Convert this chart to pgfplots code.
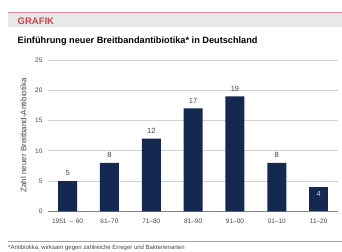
\documentclass[border=0pt]{standalone}
\usepackage{fontspec}
\setmainfont{Liberation Sans}
\usepackage{pgfplots}
\pgfplotsset{compat=1.18}
\definecolor{barblue}{RGB}{20,40,82}
\definecolor{hdrred}{RGB}{200,70,80}
\definecolor{hdrline}{RGB}{215,140,150}
\definecolor{hdrgrey}{RGB}{232,232,232}
\definecolor{gridgrey}{RGB}{210,210,210}
\definecolor{txtgrey}{RGB}{70,70,70}
\begin{document}
\begin{tikzpicture}
\fill[white] (0,0) rectangle (342pt,252pt);
\fill[hdrgrey] (8pt,225pt) rectangle (342pt,239.5pt);
\draw[hdrline, line width=1pt] (8pt,239.5pt) -- (342pt,239.5pt);
\node[anchor=west, inner sep=0pt, text=hdrred, font=\bfseries\fontsize{9.5}{10}\selectfont] at (17.5pt,230.5pt) {GRAFIK};
\node[anchor=west, inner sep=0pt, font=\bfseries\fontsize{9.2}{10}\selectfont] at (17.5pt,210.3pt) {Einführung neuer Breitbandantibiotika* in Deutschland};
\node[rotate=90, text=txtgrey, font=\fontsize{8}{9}\selectfont] at (23.5pt,116.5pt) {Zahl neuer Breitband-Antibiotika};
\begin{axis}[
  at={(48pt,40.3pt)}, anchor=south west, scale only axis,
  width=290pt, height=151.7pt,
  ymin=0, ymax=25, xmin=-0.47, xmax=6.45,
  xtick={0,1,2,3,4,5,6},
  xticklabels={1951~\,–\,~60,61–70,71–80,81–90,91–00,01–10,11–20},
  ytick={0,5,10,15,20,25},
  ymajorgrids, grid style={gridgrey, line width=0.8pt},
  axis lines*=left,
  y axis line style={draw=none},
  x axis line style={draw=gray, line width=0.8pt, -},
  major tick length=0pt,
  tick style={draw=none},
  /pgf/number format/assume math mode=true,
  tick label style={text=txtgrey, font=\fontsize{6.5}{7}\selectfont},
  xticklabel style={yshift=-4pt},
  yticklabel style={xshift=-2pt},
  ybar, bar width=19pt, bar shift=0pt,
  nodes near coords,
  every node near coord/.append style={text=txtgrey, font=\fontsize{7.5}{8}\selectfont, yshift=1.5pt},
]
\addplot[fill=barblue, draw=none] coordinates {(0,5) (1,8) (2,12) (3,17) (4,19) (5,8)};
\addplot[fill=barblue, draw=none, every node near coord/.append style={anchor=north, text=white!80!barblue, yshift=-2.5pt}] coordinates {(6,4)};
\end{axis}
\draw[hdrline, line width=1pt] (8pt,10.3pt) -- (342pt,10.3pt);
\node[anchor=west, inner sep=0pt, text=txtgrey, font=\fontsize{6}{6}\selectfont] at (8pt,3.8pt) {*Antibiotika, wirksam gegen zahlreiche Erreger und Bakterienarten};
\end{tikzpicture}
\end{document}
